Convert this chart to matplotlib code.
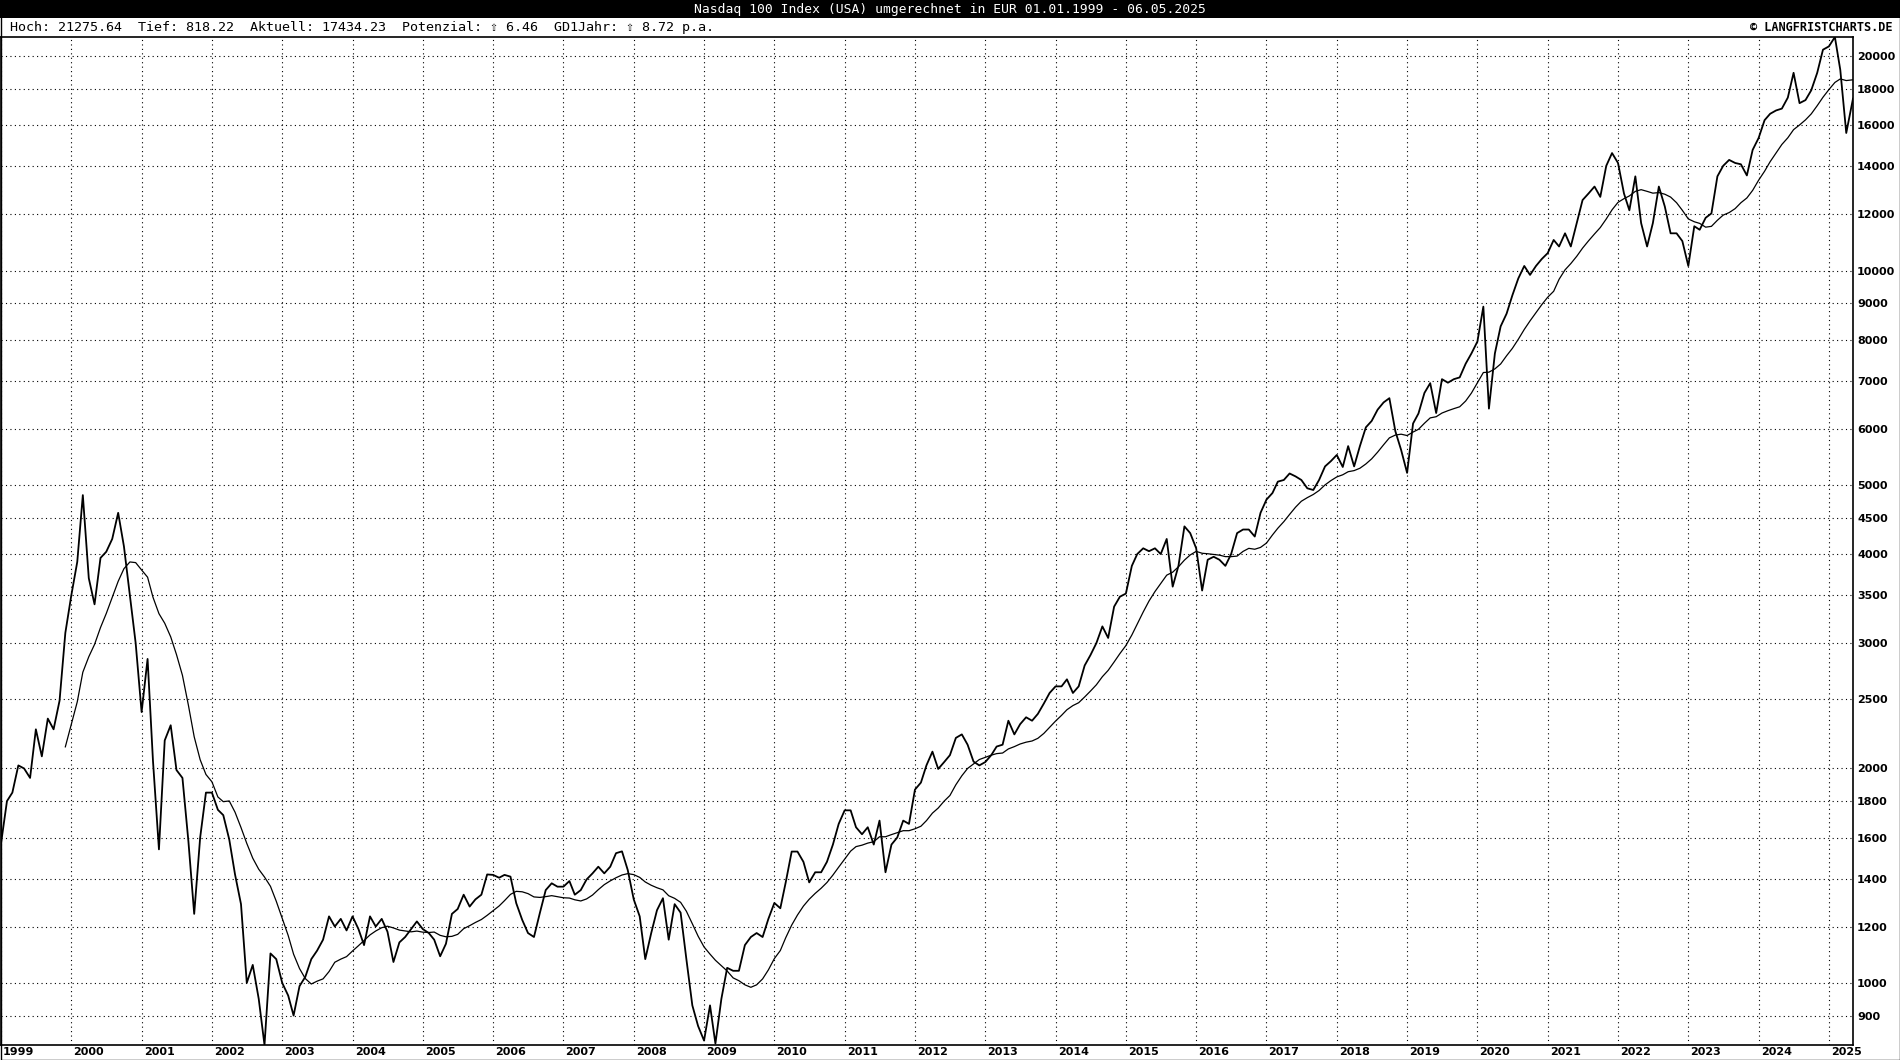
import numpy as np
import pandas as pd
import matplotlib
matplotlib.use("Agg")
import matplotlib.pyplot as plt
from matplotlib.ticker import NullLocator, NullFormatter
from matplotlib.patches import Rectangle

W, H = 1900, 1060

title = "Nasdaq 100 Index (USA) umgerechnet in EUR 01.01.1999 - 06.05.2025"
stats = "Hoch: 21275.64  Tief: 818.22  Aktuell: 17434.23  Potenzial: \u21e7 6.46  GD1Jahr: \u21e7 8.72 p.a."
copyright_text = "\u00a9 LANGFRISTCHARTS.DE"

price_high = 21275.64
price_low = 818.22

p1999 = [1569, 1800, 1850, 2020, 2000, 1940, 2270, 2080, 2350, 2270, 2490, 3100]
p2000 = [3500, 3900, 4840, 3700, 3400, 3950, 4030, 4200, 4570, 4100, 3500, 3000]
p2001 = [2400, 2850, 2050, 1540, 2190, 2300, 1990, 1940, 1580, 1250, 1600, 1850]
p2002 = [1850, 1750, 1720, 1590, 1420, 1290, 1000, 1060, 950, 818.22, 1100, 1080]
p2003 = [1000, 960, 900, 990, 1020, 1080, 1110, 1150, 1240, 1200, 1230, 1185]
p2004 = [1240, 1190, 1130, 1240, 1200, 1230, 1180, 1070, 1140, 1160, 1190, 1220]
p2005 = [1190, 1175, 1150, 1090, 1135, 1250, 1270, 1330, 1280, 1310, 1330, 1420]
p2006 = [1418, 1405, 1418, 1410, 1294, 1226, 1175, 1160, 1255, 1350, 1380, 1365]
p2007 = [1365, 1390, 1330, 1350, 1397, 1425, 1456, 1425, 1456, 1521, 1530, 1440]
p2008 = [1310, 1240, 1080, 1175, 1265, 1315, 1150, 1290, 1255, 1080, 930, 870]
p2009 = [830, 930, 822, 950, 1050, 1040, 1040, 1130, 1160, 1175, 1160, 1230]
p2010 = [1295, 1273, 1384, 1529, 1529, 1479, 1384, 1430, 1430, 1479, 1564, 1672]
p2011 = [1747, 1747, 1654, 1617, 1654, 1564, 1690, 1430, 1564, 1600, 1690, 1672]
p2012 = [1868, 1911, 2021, 2112, 1997, 2042, 2088, 2208, 2233, 2160, 2045, 2020]
p2013 = [2042, 2088, 2147, 2160, 2334, 2233, 2308, 2360, 2334, 2386, 2467, 2553]
p2014 = [2608, 2608, 2668, 2553, 2608, 2790, 2885, 3000, 3166, 3050, 3375, 3485]
p2015 = [3520, 3850, 4000, 4075, 4037, 4075, 4000, 4200, 3600, 3850, 4374, 4280]
p2016 = [4075, 3555, 3927, 3965, 3927, 3850, 4000, 4280, 4330, 4330, 4233, 4570]
p2017 = [4770, 4872, 5055, 5082, 5190, 5141, 5082, 4947, 4920, 5082, 5310, 5400]
p2018 = [5510, 5300, 5670, 5310, 5670, 6025, 6150, 6379, 6530, 6620, 5950, 5600]
p2019 = [5200, 6100, 6300, 6733, 6950, 6310, 7040, 6960, 7040, 7080, 7400, 7650]
p2020 = [7950, 8900, 6400, 7650, 8350, 8700, 9230, 9750, 10150, 9860, 10150, 10380]
p2021 = [10580, 11040, 10810, 11280, 10810, 11660, 12560, 12830, 13120, 12690, 14030, 14620]
p2022 = [14160, 12830, 12150, 13560, 11660, 10810, 11660, 13120, 12300, 11280, 11280, 11000]
p2023 = [10150, 11540, 11410, 11860, 12030, 13560, 14030, 14300, 14160, 14100, 13600, 14770]
p2024 = [15350, 16260, 16600, 16780, 16880, 17490, 18950, 17180, 17350, 17910, 18950, 20420]
p2025 = [20640, 21275.64, 19130, 15600]

last_date = "2025-05-06"
last_value = 17434.23

y_ticks = [900, 1000, 1200, 1400, 1600, 1800, 2000, 2500, 3000, 3500, 4000, 4500,
           5000, 6000, 7000, 8000, 9000, 10000, 12000, 14000, 16000, 18000, 20000]
years = list(range(1999, 2026))

monthly = (p1999 + p2000 + p2001 + p2002 + p2003 + p2004 + p2005 + p2006 + p2007
           + p2008 + p2009 + p2010 + p2011 + p2012 + p2013 + p2014 + p2015 + p2016
           + p2017 + p2018 + p2019 + p2020 + p2021 + p2022 + p2023 + p2024 + p2025)
dates = list(pd.date_range("1999-01-01", periods=len(monthly), freq="MS"))
dates.append(pd.Timestamp(last_date))
values = pd.Series(monthly + [last_value])


def dec_year(d):
    n = 366 if d.is_leap_year else 365
    return d.year + (d.dayofyear - 1) / n


t = np.array([dec_year(d) for d in dates])
gd = values.rolling(12).mean()  # gleitender Durchschnitt 1 Jahr

fig = plt.figure(figsize=(W / 100, H / 100), dpi=100)
fig.patch.set_facecolor("white")

ax = fig.add_axes([1 / W, (H - 1045) / H, 1852 / W, 1008 / H])
ax.plot(t, values, color="black", lw=1.3)
ax.plot(t[11:], gd[11:], color="black", lw=0.9)

ax.set_yscale("log")
ax.set_ylim(price_low, price_high)
ax.set_xlim(1999.0, t[-1])

ax.set_yticks(y_ticks)
ax.set_yticklabels([str(v) for v in y_ticks])
ax.yaxis.set_minor_locator(NullLocator())
ax.yaxis.set_minor_formatter(NullFormatter())
ax.yaxis.tick_right()
ax.set_xticks(years)
ax.set_xticklabels([])
ax.tick_params(length=0)
ax.tick_params(axis="y", pad=3, labelsize=8)
for lab in ax.get_yticklabels():
    lab.set_fontweight("bold")

ax.grid(True, color="black", lw=0.8, linestyle=(0, (1, 3)))
for s in ax.spines.values():
    s.set_linewidth(1.2)
    s.set_color("black")

for yr in years:
    ax.text(yr + 0.03, -7 / 1008, str(yr), transform=ax.get_xaxis_transform(),
            ha="left", va="center", fontsize=8, fontweight="bold")

# Kopfzeile
fig.patches.append(Rectangle((0, 1 - 18 / H), 1, 18 / H, transform=fig.transFigure,
                             facecolor="black", edgecolor="none"))
mono = ["DejaVu Sans Mono", "DejaVu Sans"]
fig.text(0.5, 1 - 9.5 / H, title, color="white", ha="center", va="center",
         fontsize=9.4, family=mono)
fig.text(10 / W, 1 - 27.5 / H, stats, color="black", ha="left", va="center",
         fontsize=9.6, family=mono)
fig.text(1893 / W, 1 - 27.5 / H, copyright_text, color="black", ha="right",
         va="center", fontsize=8.6, family=mono, fontweight="bold")

fig.patches.append(Rectangle((0.5 / W, 0.5 / H), 1 - 1 / W, 1 - 1 / H,
                             transform=fig.transFigure, facecolor="none",
                             edgecolor="black", lw=1.0))

fig.savefig("out.png", dpi=100)
